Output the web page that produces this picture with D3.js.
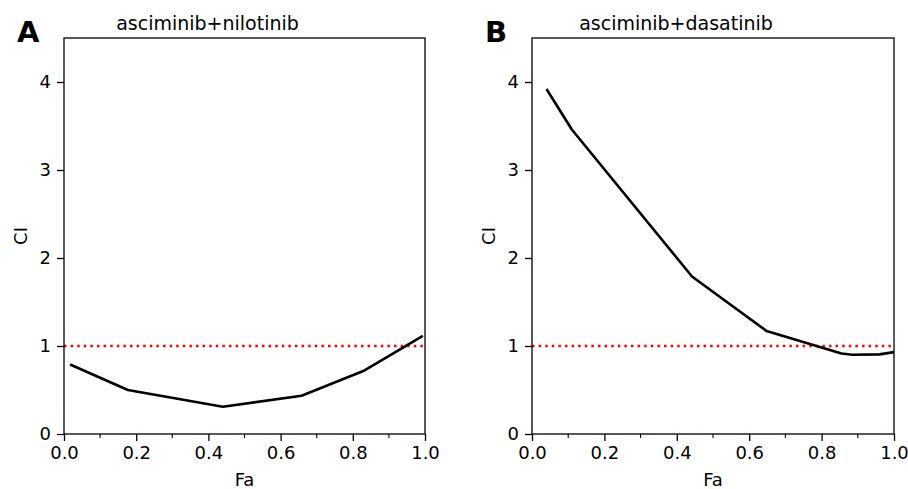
<!DOCTYPE html>
<html>
<head>
<meta charset="utf-8">
<script src="https://cdn.jsdelivr.net/npm/d3@7"></script>
<style>
  body { margin: 0; background: #fff; }
  text { font-family: "DejaVu Sans", sans-serif; fill: #000; }
</style>
</head>
<body>
<script>
// data
var faNilotinib = [0.017, 0.177, 0.44, 0.658, 0.829, 0.994];
var ciNilotinib = [0.79, 0.50, 0.31, 0.435, 0.715, 1.115];

var faDasatinib = [0.04, 0.11, 0.442, 0.648, 0.855, 0.885, 0.96, 1.0];
var ciDasatinib = [3.92, 3.46, 1.79, 1.17, 0.915, 0.90, 0.905, 0.93];

var titles = ["asciminib+nilotinib", "asciminib+dasatinib"];
var panelLetters = ["A", "B"];
var xTicks = [0, 0.2, 0.4, 0.6, 0.8, 1.0];
var xMinor = [0.1, 0.3, 0.5, 0.7, 0.9];
var yTicks = [0, 1, 2, 3, 4];
var refLine = 1;

var svg = d3.select("body").append("svg")
  .attr("width", 908)
  .attr("height", 489);

var panels = [
  {left: 64, right: 425, fa: faNilotinib, ci: ciNilotinib},
  {left: 532, right: 894, fa: faDasatinib, ci: ciDasatinib}
];
var plotTop = 38, plotBottom = 434;

panels.forEach(function(p, i) {
  var x = d3.scaleLinear().domain([0, 1]).range([p.left, p.right]);
  var y = d3.scaleLinear().domain([0, 4.5]).range([plotBottom, plotTop]);
  var g = svg.append("g");

  // reference line CI = 1
  g.append("line")
    .attr("x1", x(0)).attr("x2", x(1))
    .attr("y1", y(refLine)).attr("y2", y(refLine))
    .attr("stroke", "red")
    .attr("stroke-width", 2.5)
    .attr("stroke-dasharray", "2.5,4.1");

  var pts = p.fa.map(function(d, j) { return {x: d, y: p.ci[j]}; });
  var line = d3.line()
    .x(function(d) { return x(d.x); })
    .y(function(d) { return y(d.y); });
  g.append("path")
    .datum(pts)
    .attr("d", line)
    .attr("fill", "none")
    .attr("stroke", "#000")
    .attr("stroke-width", 2.6)
    .attr("stroke-linejoin", "round");

  // axes
  var xAxis = d3.axisBottom(x).tickValues(xTicks).tickFormat(d3.format(".1f"))
    .tickSize(7).tickPadding(5);
  var gx = g.append("g").attr("transform", "translate(0," + plotBottom + ")").call(xAxis);
  gx.selectAll("line.minor").data(xMinor).enter().append("line")
    .attr("class", "minor")
    .attr("x1", function(d) { return x(d); }).attr("x2", function(d) { return x(d); })
    .attr("y1", 0).attr("y2", 4)
    .attr("stroke", "#000").attr("stroke-width", 1.1);

  var yAxis = d3.axisLeft(y).tickValues(yTicks).tickFormat(d3.format("d"))
    .tickSize(7).tickPadding(6);
  var gy = g.append("g").attr("transform", "translate(" + p.left + ",0)").call(yAxis);

  [gx, gy].forEach(function(a) {
    a.select(".domain").remove();
    a.selectAll(".tick line").attr("stroke-width", 1.3);
    a.selectAll(".tick text").style("font-size", "18px").attr("font-family", "DejaVu Sans");
  });

  // frame
  g.append("rect")
    .attr("x", p.left).attr("y", plotTop)
    .attr("width", p.right - p.left).attr("height", plotBottom - plotTop)
    .attr("fill", "none").attr("stroke", "#000").attr("stroke-width", 1.3);

  // labels
  g.append("text")
    .attr("x", (p.left + p.right) / 2 - 37).attr("y", 30)
    .attr("text-anchor", "middle")
    .style("font-size", "19px")
    .text(titles[i]);

  g.append("text")
    .attr("x", (p.left + p.right) / 2).attr("y", 486)
    .attr("text-anchor", "middle")
    .style("font-size", "18px")
    .text("Fa");

  g.append("text")
    .attr("transform", "translate(" + (p.left - 37) + "," + ((plotTop + plotBottom) / 2) + ") rotate(-90)")
    .attr("text-anchor", "middle")
    .style("font-size", "18px")
    .text("CI");

  g.append("text")
    .attr("x", p.left - 47).attr("y", 42)
    .style("font-size", "29px")
    .style("font-weight", "bold")
    .text(panelLetters[i]);
});
</script>
</body>
</html>
